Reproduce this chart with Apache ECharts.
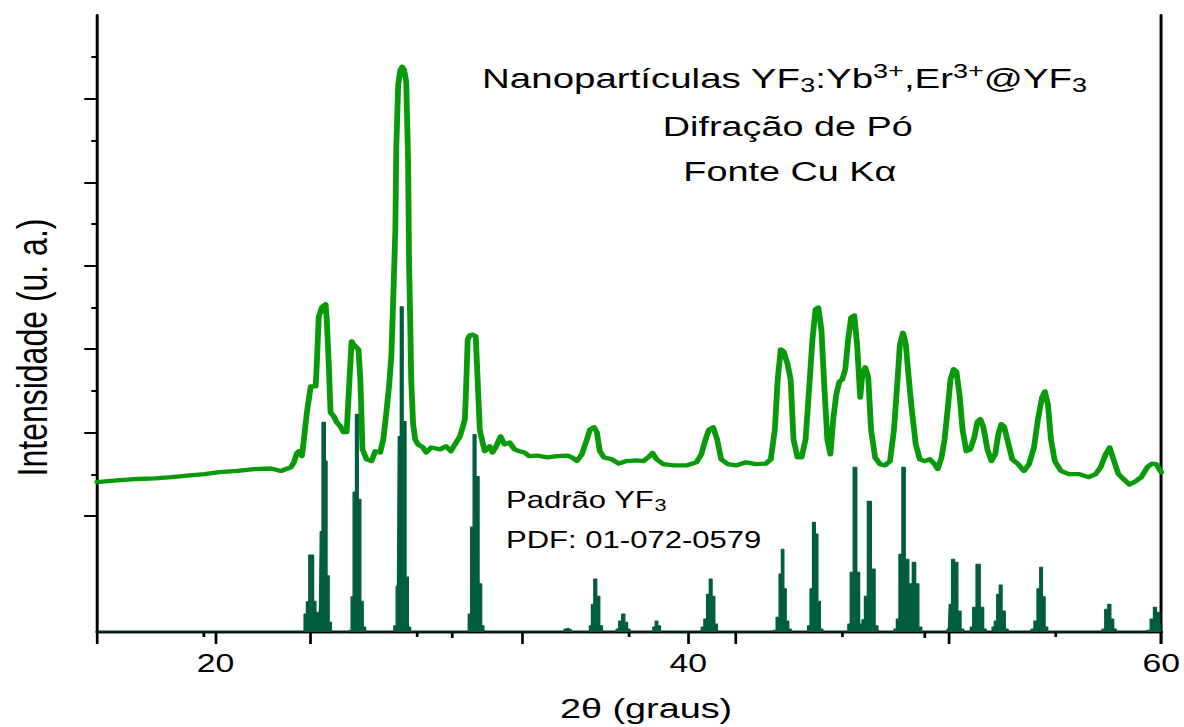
<!DOCTYPE html>
<html><head><meta charset="utf-8">
<script src="https://cdn.jsdelivr.net/npm/echarts@6/dist/echarts.min.js"></script>
<style>
html,body{margin:0;padding:0;background:#fff;overflow:hidden;width:1184px;height:727px}
#chart{width:877px;height:727px;transform:scaleX(1.350057);transform-origin:0 0}
</style></head><body><div id="chart"></div>
<script>
// Measured pattern (2θ in degrees, intensity in a.u.)
const xrdTheta = [15.00,15.34,15.97,16.72,17.44,18.15,18.91,19.54,20.17,20.92,21.64,22.35,22.77,23.19,23.32,23.45,23.53,23.66,23.87,24.03,
24.24,24.29,24.37,24.50,24.58,24.66,24.71,24.79,24.87,25.00,25.13,25.29,25.42,25.55,25.67,25.76,25.84,25.92,26.05,26.13,
26.22,26.39,26.60,26.76,26.97,27.10,27.23,27.35,27.44,27.52,27.61,27.65,27.73,27.82,27.90,27.98,28.07,28.15,28.19,28.24,
28.28,28.36,28.45,28.57,28.78,28.91,29.12,29.50,29.75,29.96,30.13,30.34,30.46,30.55,30.59,30.67,30.76,30.88,31.01,31.09,
31.18,31.30,31.39,31.60,31.72,31.85,32.06,32.23,32.44,32.65,32.86,33.07,33.28,33.61,34.03,34.45,34.87,35.08,35.29,35.50,
35.71,35.84,36.01,36.13,36.26,36.43,36.76,37.06,37.39,37.82,38.11,38.36,38.49,38.66,38.95,39.37,39.92,40.34,40.55,40.76,
40.88,41.05,41.22,41.39,41.68,42.02,42.44,42.86,43.28,43.49,43.66,43.78,43.91,44.03,44.20,44.33,44.45,44.62,44.79,44.96,
45.08,45.25,45.38,45.50,45.63,45.76,45.88,46.01,46.13,46.26,46.39,46.51,46.64,46.76,46.89,47.02,47.14,47.27,47.35,47.48,
47.61,47.73,47.90,48.11,48.32,48.53,48.70,48.82,48.95,49.08,49.20,49.33,49.45,49.62,49.79,50.00,50.21,50.42,50.55,50.71,
50.84,50.97,51.09,51.22,51.34,51.47,51.60,51.76,51.93,52.10,52.23,52.35,52.48,52.65,52.82,52.98,53.11,53.24,53.36,53.49,
53.70,53.95,54.20,54.41,54.62,54.79,54.96,55.08,55.21,55.34,55.50,55.76,56.09,56.51,56.93,57.23,57.44,57.65,57.82,57.98,
58.19,58.40,58.66,58.91,59.16,59.41,59.62,59.79,60.00];
const xrdIntensity = [243,244,246,248,249,251,254,256,259,261,264,265,261,267,275,290,293,285,356,398,
398,437,511,526,529,531,506,437,356,350,340,333,324,324,409,471,466,463,458,409,
296,280,277,293,291,312,356,401,447,539,652,786,887,911,916,911,892,761,599,502,
409,337,312,304,299,291,299,296,301,293,304,317,332,345,382,474,481,482,479,409,
328,307,293,301,291,299,317,304,307,296,293,291,285,286,283,285,286,283,277,288,
312,328,332,324,293,283,280,273,277,278,277,285,290,280,272,270,270,275,288,316,
328,332,312,280,272,270,275,272,273,280,328,409,458,455,434,409,312,283,283,312,
377,474,523,526,490,393,312,288,345,385,406,409,426,474,510,513,466,380,413,429,
413,328,283,272,270,277,328,393,466,485,466,409,361,304,280,277,280,272,264,283,
312,361,409,426,422,385,328,293,296,316,341,345,332,296,277,288,320,337,333,312,
280,272,261,272,299,345,380,390,369,312,277,261,256,256,251,256,267,288,299,280,
256,248,239,244,251,267,273,272,259];

// Reference pattern YF3, PDF 01-072-0579 (binned profile)
const refTheta = [15.00,
23.70,23.80,23.90,24.00,24.10,24.20,24.30,24.40,24.47,24.55,24.62,24.68,24.76,24.86,24.95,
25.62,25.70,25.78,25.87,25.98,26.10,26.20,26.30,26.40,
27.50,27.59,27.70,27.77,27.87,28.01,28.11,28.21,28.30,
30.65,30.74,30.85,30.95,31.09,31.21,31.31,31.40,
34.70,34.80,34.90,35.00,35.10,
35.77,35.86,35.95,36.06,36.19,36.32,36.42,
36.90,37.00,37.12,37.25,37.38,37.48,37.58,
38.45,38.55,38.65,38.77,38.87,
40.50,40.60,40.72,40.83,40.95,41.06,41.18,41.28,
43.55,43.64,43.79,43.89,43.99,44.09,44.19,44.30,44.40,
45.00,45.10,45.20,45.31,45.43,45.53,45.64,45.74,
46.70,46.80,46.90,47.05,47.20,47.29,47.40,47.50,47.65,47.83,47.97,48.07,
48.65,48.75,48.85,48.97,49.10,49.25,49.40,49.55,49.68,49.82,49.92,
50.90,51.00,51.08,51.19,51.33,51.47,51.60,51.70,
51.88,51.98,52.08,52.26,52.43,52.55,52.65,
52.80,52.90,52.99,53.10,53.21,53.33,53.48,53.58,
54.45,54.55,54.69,54.81,54.92,55.03,55.15,55.25,
57.45,57.55,57.68,57.81,57.93,58.05,58.15,
59.35,59.45,59.62,59.73,59.87,60.00];
const refIntensity = [0,
0,29,49,125,125,50,32,32,163,340,340,277,91,16,0,
0,3,57,227,353,215,50,8,0,
0,10,74,317,527,341,89,8,0,
0,29,170,320,252,78,10,0,
0,5,6,4,0,
0,10,45,86,58,10,0,
0,5,18,29,16,5,0,
0,8,18,10,0,
0,8,21,61,86,58,13,0,
0,3,24,94,134,70,18,5,0,
0,10,70,178,159,50,5,0,
0,13,97,267,97,13,20,58,212,102,10,0,
0,5,21,126,267,118,78,113,78,8,0,
0,5,45,118,113,34,5,0,
0,8,40,110,40,5,0,
0,8,18,61,76,34,5,0,
0,5,18,70,105,57,8,0,
0,5,37,45,21,5,0,
0,3,21,40,32,13];

const xMajorTicks = [20, 40, 60];
const xMinorTicks = [30, 50];
const yMajorTicks = [187.7, 323.0, 458.3, 593.5, 728.8, 864.1];
const yMinorTicks = [255.3, 390.6, 525.9, 661.2, 796.4, 931.7];

const FONT = "'Liberation Sans', Arial, sans-serif";
const chart = echarts.init(document.getElementById('chart'), null, {renderer: 'svg', width: 877, height: 727});

const axisLineV = {show: true, lineStyle: {color: '#000', width: 2.2}};
const axisLineH = {show: true, lineStyle: {color: '#000', width: 2.4}};

chart.setOption({
  animation: false,
  backgroundColor: '#fff',
  grid: {left: 68.14, right: 15.6, top: 15, bottom: 94, containLabel: false},
  xAxis: [
    {type: 'value', min: 15, max: 60, position: 'bottom',
     axisLine: axisLineH,
     axisTick: {show: true, inside: false, length: 12, customValues: xMajorTicks, lineStyle: {color: '#000', width: 2}},
     axisLabel: {show: true, customValues: xMajorTicks, fontSize: 25, color: '#000', fontFamily: FONT, margin: 19},
     splitLine: {show: false},
     name: '2θ (graus)', nameLocation: 'middle', nameGap: 62,
     nameTextStyle: {fontSize: 28, color: '#000', fontFamily: FONT, padding: [0, 0, 0, 25]}},
    {type: 'value', min: 15, max: 60, position: 'bottom',
     axisLine: {show: false},
     axisTick: {show: true, length: 6, customValues: xMinorTicks, lineStyle: {color: '#000', width: 2}},
     axisLabel: {show: false}, splitLine: {show: false}},
    {type: 'value', min: 0, max: 5, interval: 1, position: 'top',
     axisLine: axisLineH,
     axisTick: {show: true, inside: true, length: 12, lineStyle: {color: '#000', width: 2}},
     minorTick: {show: true, splitNumber: 2, length: 5, lineStyle: {color: '#000', width: 2}},
     axisLabel: {show: false}, splitLine: {show: false}, minorSplitLine: {show: false}}
  ],
  yAxis: [
    {type: 'value', min: 0, max: 1000, position: 'left',
     axisLine: axisLineV,
     axisTick: {show: true, length: 9.6, customValues: yMajorTicks, lineStyle: {color: '#000', width: 2}},
     axisLabel: {show: false}, splitLine: {show: false},
     name: 'Intensidade (u. a.)', nameLocation: 'middle', nameGap: 32,
     nameTextStyle: {fontSize: 32, color: '#000', fontFamily: FONT, padding: [0, 48, 0, 0]}},
    {type: 'value', min: 0, max: 1000, position: 'left',
     axisLine: {show: false},
     axisTick: {show: true, length: 4.4, customValues: yMinorTicks, lineStyle: {color: '#000', width: 2}},
     axisLabel: {show: false}, splitLine: {show: false}},
    {type: 'value', min: 0, max: 1000, position: 'right',
     axisLine: axisLineV, axisTick: {show: false}, axisLabel: {show: false}, splitLine: {show: false}}
  ],
  series: [
    {type: 'line', name: 'Nanopartículas', xAxisIndex: 0, yAxisIndex: 0,
     data: xrdTheta.map((t, i) => [t, xrdIntensity[i]]),
     showSymbol: false, symbol: 'none', z: 3,
     lineStyle: {color: '#089a08', width: 4.3, join: 'round', cap: 'round'}},
    {type: 'line', name: 'Padrão YF3', xAxisIndex: 0, yAxisIndex: 0,
     data: refTheta.map((t, i) => [t, refIntensity[i]]),
     step: 'middle', showSymbol: false, symbol: 'none', z: 4,
     lineStyle: {color: '#005e3c', width: 1},
     areaStyle: {color: '#005e3c', opacity: 1}}
  ],
  graphic: [
    {type: 'text', x: 581, y: 78, z: 10,
     style: {text: '{m|Nanopartículas YF}{sub|3}{m|:Yb}{sup|3+}{m|,Er}{sup|3+}{m|@YF}{sub|3}',
       align: 'center', verticalAlign: 'middle', textAlign: 'center', textVerticalAlign: 'middle', fill: '#000',
       rich: {m: {fontSize: 28.5, lineHeight: 34, fontFamily: FONT, fill: '#000'},
              sup: {fontSize: 20, lineHeight: 21, verticalAlign: 'top', fontFamily: FONT, fill: '#000'},
              sub: {fontSize: 20, lineHeight: 21, verticalAlign: 'bottom', fontFamily: FONT, fill: '#000'}}}},
    {type: 'text', x: 583.5, y: 126, z: 10,
     style: {text: 'Difração de Pó', font: '28px ' + FONT, fill: '#000',
       align: 'center', verticalAlign: 'middle', textAlign: 'center', textVerticalAlign: 'middle'}},
    {type: 'text', x: 585, y: 171, z: 10,
     style: {text: 'Fonte Cu Kα', font: '28px ' + FONT, fill: '#000',
       align: 'center', verticalAlign: 'middle', textAlign: 'center', textVerticalAlign: 'middle'}},
    {type: 'text', x: 374.8, y: 500, z: 10,
     style: {text: '{m|Padrão YF}{sub|3}', align: 'left', verticalAlign: 'middle', textAlign: 'left', textVerticalAlign: 'middle', fill: '#000',
       rich: {m: {fontSize: 23, lineHeight: 28, fontFamily: FONT, fill: '#000'},
              sub: {fontSize: 16, lineHeight: 17, verticalAlign: 'bottom', fontFamily: FONT, fill: '#000'}}}},
    {type: 'text', x: 374.8, y: 540, z: 10,
     style: {text: 'PDF: 01-072-0579', font: '23px ' + FONT, fill: '#000',
       align: 'left', verticalAlign: 'middle', textAlign: 'left', textVerticalAlign: 'middle'}}
  ]
});
</script></body></html>
